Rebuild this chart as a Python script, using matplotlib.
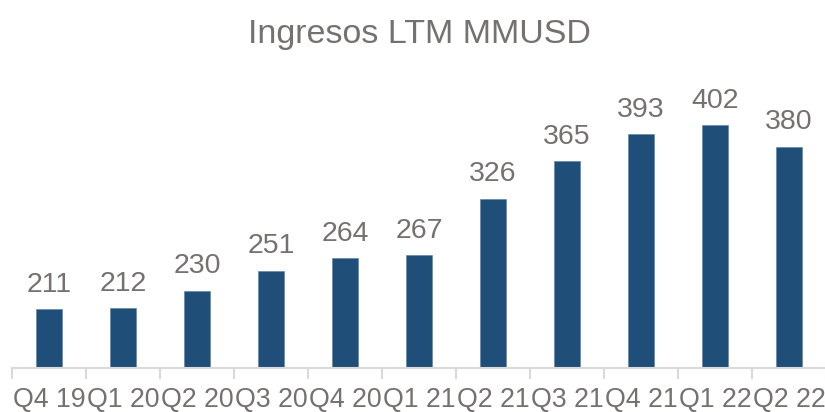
import matplotlib.pyplot as plt

# Datos del gráfico
trimestres = ['Q4 19', 'Q1 20', 'Q2 20', 'Q3 20', 'Q4 20', 'Q1 21',
              'Q2 21', 'Q3 21', 'Q4 21', 'Q1 22', 'Q2 22']
ingresos = [211, 212, 230, 251, 264, 267, 326, 365, 393, 402, 380]
titulo = 'Ingresos LTM MMUSD'

azul = '#1F4E79'
gris = '#767171'

plt.rcParams['font.family'] = ['Liberation Sans', 'DejaVu Sans']

fig = plt.figure(figsize=(8.25, 4.12), dpi=100)
ax = fig.add_axes([12 / 825, 1 - 368 / 412, 814 / 825, (368 - 60) / 412])

x = list(range(len(trimestres)))
barras = ax.bar(x, ingresos, width=0.34, color=azul, edgecolor='#5B7FA3', linewidth=0.4)

ymin, ymax = 150, 470
ax.set_ylim(ymin, ymax)
ax.set_xlim(-0.5, len(trimestres) - 0.5)

for xi, v in zip(x, ingresos):
    ax.text(xi, v + 12, str(v), ha='center', va='bottom', fontsize=20.5, color=gris)

ax.set_yticks([])
for lado in ['top', 'right', 'left']:
    ax.spines[lado].set_visible(False)
ax.spines['bottom'].set_color('#D9D9D9')
ax.spines['bottom'].set_linewidth(1.5)

# Marcas entre categorías
ax.set_xticks([i - 0.5 for i in range(len(trimestres) + 1)], minor=False)
ax.set_xticklabels([])
ax.tick_params(axis='x', which='major', length=8, color='#D9D9D9', width=1.5)
ax.set_xticks(x, minor=True)
ax.set_xticklabels(trimestres, minor=True)
ax.tick_params(axis='x', which='minor', length=0, pad=14, labelsize=19.3, labelcolor=gris)

fig.text(0.508, 0.955, titulo, ha='center', va='top', fontsize=24.5, color=gris)

fig.savefig('out.png', dpi=100)
